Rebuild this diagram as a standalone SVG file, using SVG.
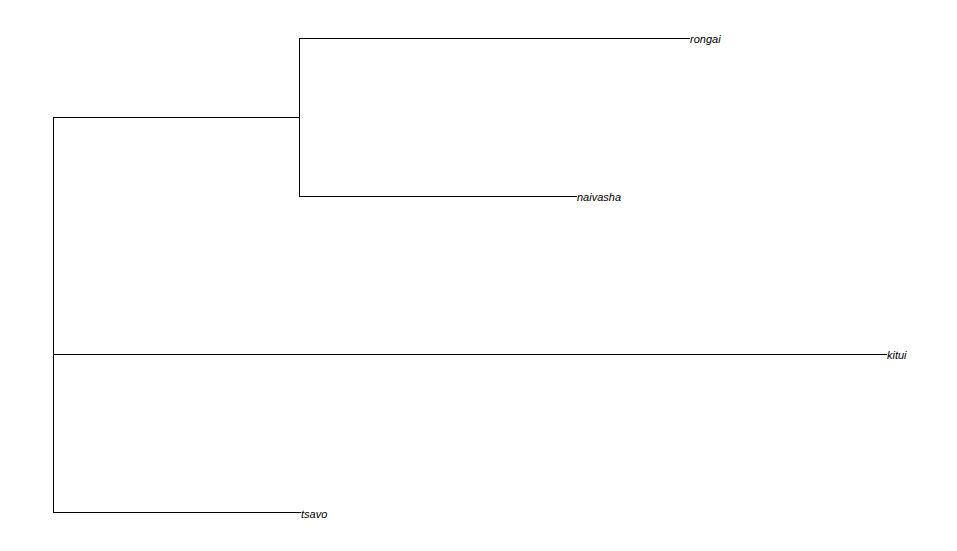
<svg xmlns="http://www.w3.org/2000/svg" width="957" height="551" viewBox="0 0 957 551">
<style>
.e{stroke:#000;stroke-width:1;fill:none;shape-rendering:crispEdges}
.t{font-family:"Liberation Sans",Arial,sans-serif;font-size:11px;font-style:italic;fill:#000}
</style>
<rect width="957" height="551" fill="#fff"/>
<g id="edges">
<path class="e" d="M53.5 117.5V512.5"/>
<path class="e" d="M53 117.5H299.5"/>
<path class="e" d="M299.5 38.5V196.5"/>
<path class="e" d="M299 38.5H690"/>
<path class="e" d="M299 196.5H577"/>
<path class="e" d="M53 354.5H887"/>
<path class="e" d="M53 512.5H301"/>
</g>
<g id="rongai"><text class="t" x="690" y="43">rongai</text></g>
<g id="naivasha"><text class="t" x="577" y="201">naivasha</text></g>
<g id="kitui"><text class="t" x="887" y="359">kitui</text></g>
<g id="tsavo"><text class="t" x="301" y="517.5">tsavo</text></g>
</svg>
